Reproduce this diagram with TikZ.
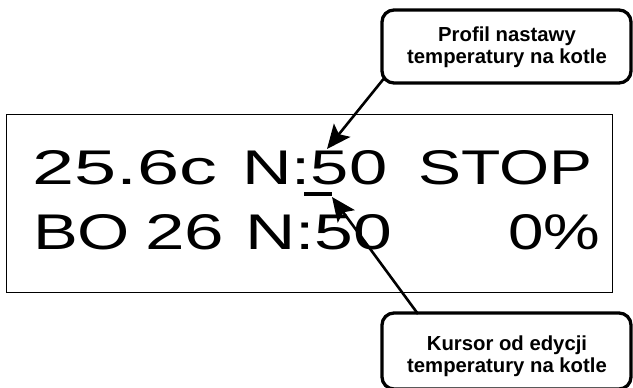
\documentclass[tikz,border=0pt]{standalone}
\usepackage{fontspec}
\setmainfont{Liberation Sans}
\usepackage{graphicx}
\usetikzlibrary{arrows.meta}
\begin{document}
\begin{tikzpicture}[x=1pt,y=-1pt,
  callout/.style={draw, line width=3.3pt, rounded corners=12pt, inner sep=0pt},
  calltext/.style={inner sep=0pt, align=center, font=\bfseries\fontsize{20.3}{22}\selectfont},
  lcdword/.style={anchor=south west, inner sep=0pt},
  pointer/.style={line width=2.6pt, -{Stealth[length=24pt,width=21pt,inset=5pt]}}]
\useasboundingbox (0,0) rectangle (633,388);
% display frame
\node[draw, line width=1pt, minimum width=605.5pt, minimum height=178pt, inner sep=0pt] (frame) at (309.25,203) {};
% display text row 1
\node[lcdword] (r1a) at (32,185) {\resizebox{185pt}{34pt}{25.6c}};
\node[lcdword] (r1b) at (242,185) {\resizebox{145pt}{34pt}{N:50}};
\node[lcdword] (r1c) at (418,185) {\resizebox{174pt}{34pt}{STOP}};
% cursor
\fill (304,191.5) rectangle (332,196);
% display text row 2
\node[lcdword] (r2a) at (33,250) {\resizebox{97pt}{35pt}{BO}};
\node[lcdword] (r2b) at (145,250) {\resizebox{79pt}{35pt}{26}};
\node[lcdword] (r2c) at (245,250) {\resizebox{147pt}{35pt}{N:50}};
\node[lcdword] (r2d) at (508,250) {\resizebox{92pt}{35pt}{0\%}};
% callouts
\node[callout, minimum width=249pt, minimum height=73pt] (top) at (506.5,46.5) {};
\node[calltext] (toptext) at (507,47) {Profil nastawy\\temperatury na kotle};
\node[callout, minimum width=249pt, minimum height=76pt] (bot) at (506.5,351) {};
\node[calltext] (bottext) at (507,356) {Kursor od edycji\\temperatury na kotle};
% pointers
\coordinate (topstart) at (383.5,79);
\coordinate (toptip) at (327,149);
\coordinate (botstart) at (418,314);
\coordinate (bottip) at (332,197);
\draw[pointer] (topstart) -- (toptip);
\draw[pointer] (botstart) -- (bottip);
\end{tikzpicture}
\end{document}
